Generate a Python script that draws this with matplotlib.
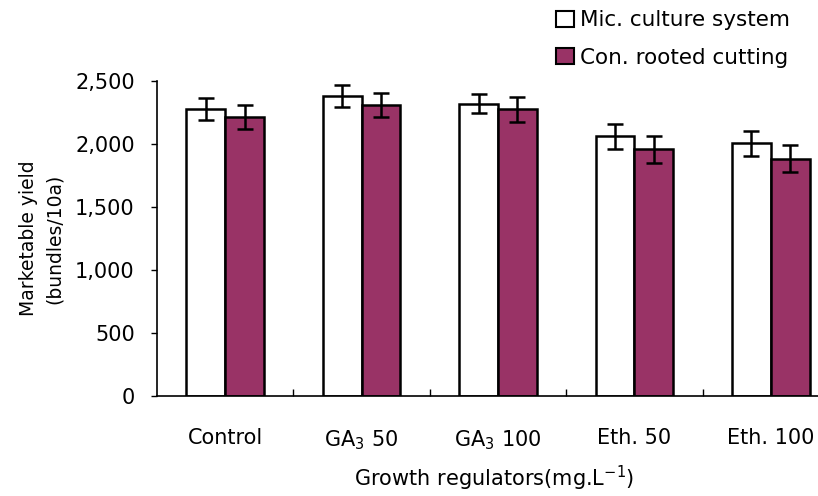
import matplotlib
matplotlib.use("Agg")
import matplotlib.pyplot as plt
import matplotlib.patches as mpatches
import numpy as np

categories = ["Control", "GA$_3$ 50", "GA$_3$ 100", "Eth. 50", "Eth. 100"]
series_names = ["Mic. culture system", "Con. rooted cutting"]
mic_values = [2278, 2383, 2320, 2063, 2005]
mic_errors = [85, 87, 75, 99, 98]
con_values = [2217, 2310, 2275, 1960, 1883]
con_errors = [94, 98, 100, 107, 106]
y_ticks = [0, 500, 1000, 1500, 2000, 2500]
y_tick_labels = ["0", "500", "1,000", "1,500", "2,000", "2,500"]

plt.rcParams["font.family"] = ["DejaVu Sans"]

fig = plt.figure(figsize=(8.18, 4.96), dpi=100)
ax = fig.add_axes([157 / 818, 100 / 496, 682 / 818, 315 / 496])

x = np.arange(len(categories))
w = 0.285
ax.bar(x - w / 2, mic_values, w, color="white", edgecolor="black", linewidth=1.8,
       zorder=2)
ax.bar(x + w / 2, con_values, w, color="#993366", edgecolor="black", linewidth=1.8,
       zorder=2)
ax.errorbar(x - w / 2, mic_values, yerr=mic_errors, fmt="none", ecolor="black",
            elinewidth=1.8, capsize=6, capthick=1.8, zorder=3)
ax.errorbar(x + w / 2, con_values, yerr=con_errors, fmt="none", ecolor="black",
            elinewidth=1.8, capsize=6, capthick=1.8, zorder=3)

ax.set_xlim(-0.5, len(categories) - 0.5)
ax.set_ylim(0, 2500)
ax.set_yticks(y_ticks)
ax.set_yticklabels(y_tick_labels, fontsize=15)
ax.set_xticks(x)
ax.set_xticklabels(categories, fontsize=15)
ax.set_xticks(np.arange(len(categories) - 1) + 0.5, minor=True)

ax.tick_params(axis="x", which="major", length=0, pad=23)
ax.tick_params(axis="x", which="minor", direction="in", length=5, width=1)
ax.tick_params(axis="y", direction="out", length=4, width=1, pad=12)

for side in ("top", "right"):
    ax.spines[side].set_visible(False)
for side in ("left", "bottom"):
    ax.spines[side].set_linewidth(1.2)

ax.set_ylabel("Marketable yield\n(bundles/10a)", fontsize=13.5, labelpad=8,
              linespacing=1.45)
fig.text(494 / 818, 1 - 478 / 496, "Growth regulators(mg.L$^{-1}$)",
         ha="center", va="center", fontsize=15)

handles = [
    mpatches.Patch(facecolor="white", edgecolor="black", linewidth=1.5),
    mpatches.Patch(facecolor="#993366", edgecolor="black", linewidth=1.5),
]
fig.legend(handles, series_names, loc="upper left",
           bbox_to_anchor=(550 / 818, 1 - 4 / 496), frameon=False, fontsize=15.5,
           handlelength=0.8, handleheight=0.8, handletextpad=0.3,
           labelspacing=0.8, borderaxespad=0, borderpad=0.3)

fig.savefig("out.png", dpi=100)
